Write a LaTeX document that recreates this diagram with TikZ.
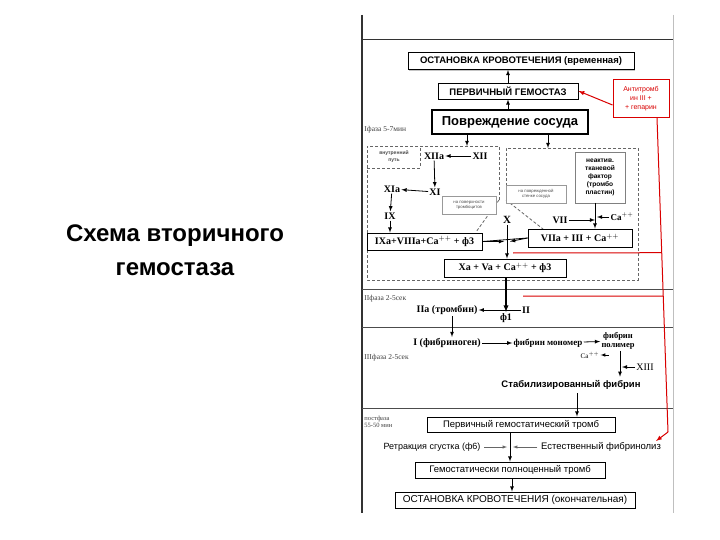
\documentclass[tikz,border=0pt]{standalone}
\usepackage{fontspec}
\setmainfont{Liberation Sans}
\newfontfamily\serifrm{Liberation Serif}
\usetikzlibrary{shadows}
\usetikzlibrary{calc}

\begin{document}
\begin{tikzpicture}[
        x=1pt, y=-1pt, >=latex, thick,
        box/.style={draw, fill=white, line width=0.9pt, inner sep=0pt,
                    drop shadow={shadow xshift=1.3pt, shadow yshift=-1.3pt, opacity=0.45}},
        greybox/.style={draw=gray!80, fill=white, inner sep=0pt, align=center,
                        text=gray!60!black, font=\fontsize{4.3}{4.8}\selectfont,
                        drop shadow={shadow xshift=1pt, shadow yshift=-1pt, opacity=0.3}},
        rom/.style={inner sep=1pt, font=\serifrm\bfseries\fontsize{10}{11}\selectfont},
        phase/.style={anchor=west, inner sep=0pt, align=left, text=black!75,
                      font=\serifrm\fontsize{7.5}{8}\selectfont},
        dashline/.style={densely dashed, line width=0.8pt, black!60},
        redline/.style={red!85!black, line width=1pt},
        sep/.style={black!70, line width=0.8pt},
        arr/.style={->, line width=0.8pt},
    ]
    \fill[white] (0,0) rectangle (720,540);

    % title
    \node[align=center, font=\bfseries\fontsize{24}{34}\selectfont] (title) at (175,250)
        {Схема вторичного\\гемостаза};

    % frame of the scheme
    \draw[black!80, line width=1.3pt] (362,15) -- (362,513);
    \draw[black!25, line width=0.8pt] (673,15) -- (673,513);
    \draw[black!80, line width=1pt] (362,40) -- (673,40);
    \draw[sep] (362,289) -- (673,289);
    \draw[sep] (362,327) -- (673,327);
    \draw[sep] (362,408) -- (673,408);

    % phase labels
    \node[phase] (ph1) at (364,130) {Iфаза 5-7мин};
    \node[phase] (ph2) at (364,299) {IIфаза 2-5сек};
    \node[phase] (ph3) at (364,358) {IIIфаза 2-5сек};
    \node[phase, font=\serifrm\fontsize{6.5}{7.5}\selectfont] (ph4) at (364,422) {постфаза\\55-50 мин};

    % top part
    \node[box, minimum width=226pt, minimum height=17pt,
          font=\bfseries\fontsize{9.5}{10}\selectfont] (stopa) at (521,61)
        {ОСТАНОВКА КРОВОТЕЧЕНИЯ (временная)};
    \node[box, minimum width=140pt, minimum height=16pt,
          font=\bfseries\fontsize{9.5}{10}\selectfont] (prim) at (508,91)
        {ПЕРВИЧНЫЙ ГЕМОСТАЗ};
    \node[box, line width=2pt, minimum width=156pt, minimum height=24pt,
          font=\bfseries\fontsize{13}{14}\selectfont] (damage) at (510,122)
        {Повреждение сосуда};
    \node[draw=red!85!black, line width=1pt, fill=white, inner sep=0pt, align=center,
          minimum width=56pt, minimum height=38pt, text=red!85!black,
          font=\fontsize{7}{9}\selectfont] (anti) at (641,99)
        {Антитромб\\ин III +\\+ гепарин};

    \draw[arr] (prim.north) -- (prim.north |- stopa.south);
    \draw[arr] (damage.north -| prim.north) -- (prim.south);
    \draw[redline, ->] ($(anti.west)+(0,6)$) -- (prim.east);

    % phase I, dashed regions
    \draw[dashline] (499,200) -- (499,146) -- (367,146) -- (367,280) -- (638,280)
        -- (638,148) -- (506,148) -- (506,200);
    \draw[dashline] (499,200) -- (476,232);
    \draw[dashline] (506,200) -- (543,229);
    \draw[dashline] (367,168) -- (420,168) -- (420,146);
    \node[align=center, text=black!70, font=\bfseries\fontsize{5}{7}\selectfont] (inner) at (394,157)
        {внутренний\\путь};

    \draw[arr] (damage.south -| 467,0) -- (467,146);
    \draw[arr] (damage.south -| 548,0) -- (548,148);

    % intrinsic way
    \node[rom] (xiia) at (434,156) {XIIa};
    \node[rom] (xii) at (480,156) {XII};
    \node[rom] (xi) at (435,192) {XI};
    \node[rom] (xia) at (392,189) {XIa};
    \node[rom] (ix) at (390,216) {IX};
    \draw[arr] (xii) -- (xiia);
    \draw[arr] (xiia) -- (xi);
    \draw[arr] (xi) -- (xia);
    \draw[arr] (xia) -- (ix);

    \node[greybox, minimum width=54pt, minimum height=18pt] (surf) at (469,205)
        {на поверхности\\тромбоцитов};
    \node[greybox, minimum width=60pt, minimum height=18pt] (wall) at (536,194)
        {на поврежденной\\стенке сосуда};
    \node[greybox, draw=gray, text=black, minimum width=50pt, minimum height=51pt,
          font=\bfseries\fontsize{6.6}{8.2}\selectfont] (tissue) at (600,177.5)
        {неактив.\\тканевой\\фактор\\(тромбо\\пластин)};

    \node[box, minimum width=115pt, minimum height=17pt, rom] (ixa) at (424.5,241.5)
        {IXa+VIIIa+Ca$^{++}$ + ф3};
    \node[box, minimum width=104pt, minimum height=18pt, rom] (viia) at (580,238)
        {VIIa + III + Ca$^{++}$};
    \node[box, minimum width=122pt, minimum height=18pt, rom] (xa) at (505,268)
        {Xa + Va + Ca$^{++}$ + ф3};
    \draw[arr] (ix) -- (ix |- ixa.north);

    \node[rom] (vii) at (560,220) {VII};
    \node[rom, font=\serifrm\bfseries\fontsize{9}{10}\selectfont] (ca) at (622,217) {Ca$^{++}$};
    \coordinate (tfout) at (595,203);
    \draw[arr] (tfout) -- (tfout |- viia.north);
    \draw[arr] (vii) -- (vii -| tfout);
    \draw[arr] (ca.west) -- ($(ca.west -| tfout)+(2,0)$);

    \node[rom, font=\serifrm\bfseries\fontsize{11}{12}\selectfont] (cross) at (507,220) {X};
    \draw[arr] (cross.south) -- (cross.south |- xa.north);
    \coordinate (mid) at (cross.south |- ixa.east);
    \draw[line width=0.8pt] (ixa.east) -- (viia.west);
    \draw[arr] (ixa.east) -- ($(mid)+(-3,0)$);
    \draw[arr] (viia.west) -- ($(mid)+(3,0)$);

    % red inhibition lines
    \coordinate (rtop) at (657,118);
    \coordinate (rbot) at (668,432);
    \coordinate (fibend) at (656,441);
    \draw[redline] (rtop) -- (rbot);
    \draw[redline, ->] (rbot) -- (fibend);
    \draw[redline] (513,253) -- ($(rtop)!0.429!(rbot)$);
    \draw[redline] (523,296) -- ($(rtop)!0.567!(rbot)$);

    % phase II
    \node[rom] (f1) at (506,318) {ф1};
    \node[rom] (ii) at (526,310) {II};
    \node[rom] (iia) at (447,310) {IIa (тромбин)};
    \draw[->, line width=1.3pt] (xa.south -| f1.north) -- (f1.north);
    \draw[arr] (ii) -- (iia);

    % phase III
    \node[rom] (fbg) at (447,343) {I (фибриноген)};
    \node[rom, font=\serifrm\bfseries\fontsize{9}{10}\selectfont] (mono) at (548,343) {фибрин мономер};
    \node[rom, align=center, font=\serifrm\bfseries\fontsize{8.5}{9}\selectfont] (poly) at (618,341)
        {фибрин\\полимер};
    \node[rom, font=\serifrm\fontsize{7}{8}\selectfont] (cab) at (590,355) {Ca$^{++}$};
    \node[rom, font=\serifrm\fontsize{10}{11}\selectfont] (xiii) at (645,367) {XIII};
    \node[font=\bfseries\fontsize{9.5}{10}\selectfont] (stab) at (571,385) {Стабилизированный фибрин};
    \draw[arr] (iia.south -| 452,0) -- (fbg.north -| 452,0);
    \draw[arr] (fbg) -- (mono);
    \draw[arr] (mono) -- (poly);
    \draw[->, line width=0.6pt] ($(cab.east)+(8,0)$) -- (cab.east);
    \draw[arr] (poly.south -| 620,0) -- (stab.north -| 620,0);
    \draw[arr] (xiii) -- (xiii -| 622,0);

    % post phase
    \node[box, minimum width=188pt, minimum height=15pt,
          font=\fontsize{9.5}{10}\selectfont] (thra) at (521,424.5)
        {Первичный гемостатический тромб};
    \node[font=\fontsize{9}{10}\selectfont] (retr) at (432,447) {Ретракция сгустка (ф6)};
    \node[font=\fontsize{9.5}{10}\selectfont] (lysis) at (601,447) {Естественный фибринолиз};
    \node[box, minimum width=190pt, minimum height=16pt,
          font=\fontsize{9.5}{10}\selectfont] (thrb) at (510,470)
        {Гемостатически полноценный тромб};
    \node[box, minimum width=240pt, minimum height=16pt,
          font=\fontsize{10}{11}\selectfont] (stopb) at (515,500)
        {ОСТАНОВКА КРОВОТЕЧЕНИЯ (окончательная)};

    \draw[arr] (stab.south -| 577,0) -- (thra.north -| 577,0);
    \draw[arr] (thra.south -| thrb.north) -- (thrb.north);
    \draw[->, black!60, line width=0.5pt] (retr.east) -- ($(retr.east -| thrb.north)+(-3,0)$);
    \draw[->, black!60, line width=0.5pt] (lysis.west) -- ($(lysis.west -| thrb.north)+(3,0)$);
    \draw[arr] (thrb.south -| 512,0) -- (stopb.north -| 512,0);
\end{tikzpicture}
\end{document}
